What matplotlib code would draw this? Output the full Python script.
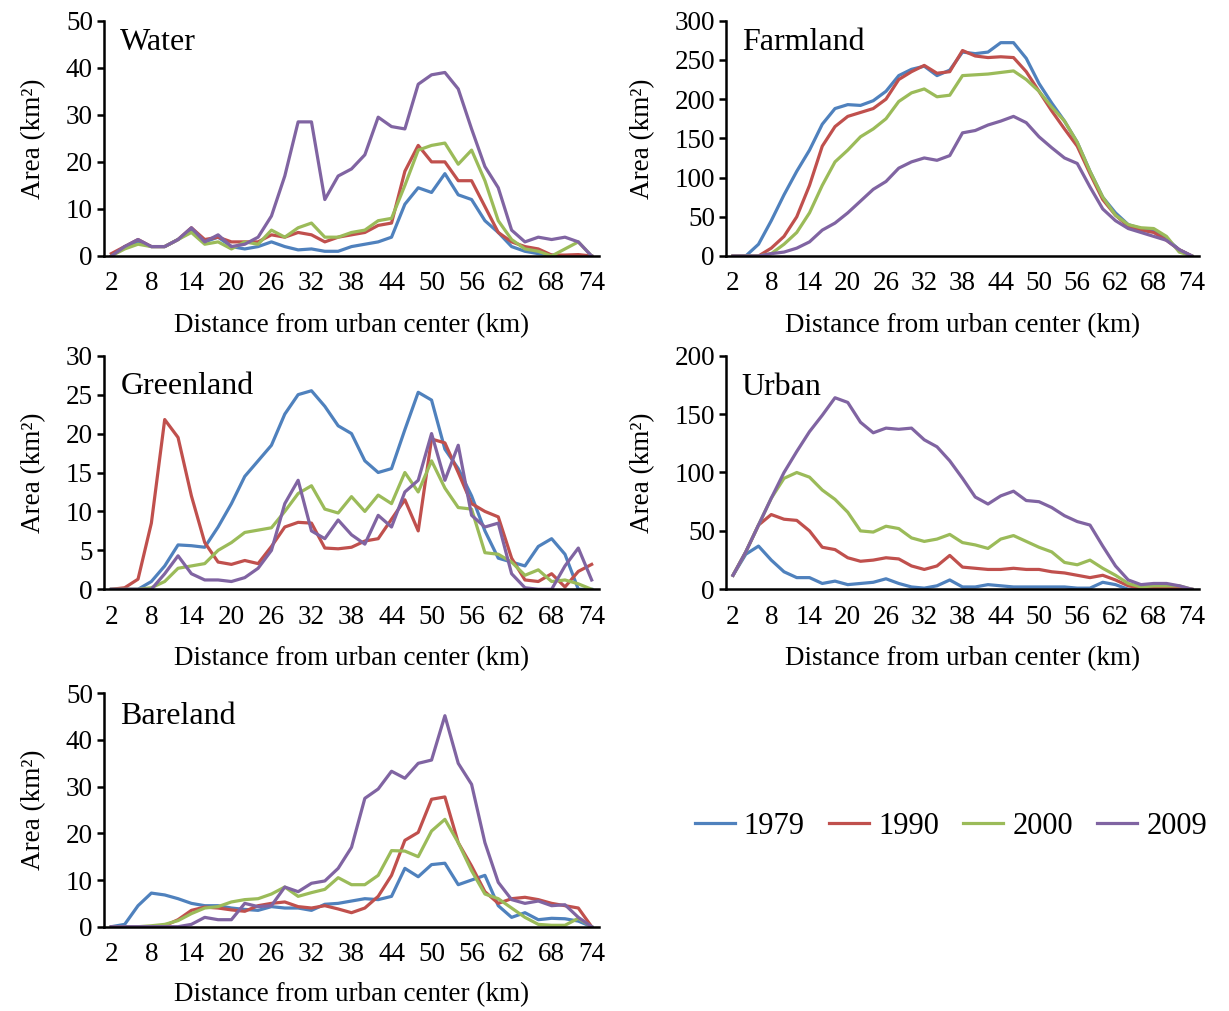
import matplotlib
matplotlib.use('Agg')
import matplotlib.pyplot as plt

plt.rcParams['font.family'] = ['Liberation Serif', 'DejaVu Serif']

dist = list(range(2, 76, 2))
years = ['1979', '1990', '2000', '2009']
colors = ['#4F81BD', '#C0504D', '#9BBB59', '#8064A2']

# Water
water_1979 = [0, 2, 3, 2, 2, 3.5, 5.5, 3, 4, 2, 1.5, 2, 3, 2, 1.3, 1.5, 1, 1, 2, 2.5,
              3, 4, 11, 14.5, 13.5, 17.5, 13, 12, 7.5, 5, 2, 1, 0.5, 0.2, 0, 0, 0]
water_1990 = [0.5, 2, 3.5, 2, 2, 3.5, 6, 3.5, 4, 3, 3, 3, 4.5, 4, 5, 4.5, 3, 4, 4.5, 5,
              6.5, 7, 18, 23.5, 20, 20, 16, 16, 10.5, 5, 3, 2, 1.5, 0.2, 0.2, 0.3, 0]
water_2000 = [0, 1.5, 2.5, 2, 2, 3.5, 5, 2.5, 3, 1.5, 3, 2.5, 5.5, 4, 6, 7, 4, 4, 5, 5.5,
              7.5, 8, 15, 22.5, 23.5, 24, 19.5, 22.5, 16, 7.5, 3.5, 1.5, 1, 0, 1.5, 3, 0]
water_2009 = [0, 2, 3.5, 2, 2, 3.5, 6, 3, 4.5, 2, 2.5, 4, 8.5, 17, 28.5, 28.5, 12, 17, 18.5, 21.5,
              29.5, 27.5, 27, 36.5, 38.5, 39, 35.5, 27, 19, 14.5, 5.5, 3, 4, 3.5, 4, 3, 0]

# Farmland
farm_1979 = [0, 0, 15, 45, 78, 108, 135, 168, 188, 193, 192, 198, 210, 230, 238, 242, 230, 237, 260, 258,
             260, 272, 272, 252, 220, 195, 172, 145, 108, 75, 55, 40, 35, 32, 22, 8, 0]
farm_1990 = [0, 0, 0, 10, 25, 50, 90, 140, 165, 178, 183, 188, 200, 225, 235, 243, 233, 235, 262, 255,
             253, 254, 253, 235, 210, 185, 162, 140, 105, 72, 52, 38, 33, 30, 20, 8, 0]
farm_2000 = [0, 0, 0, 3, 15, 30, 55, 90, 120, 135, 152, 162, 175, 197, 208, 213, 203, 205, 230, 231,
             232, 234, 236, 225, 210, 190, 172, 145, 108, 75, 52, 40, 36, 35, 25, 5, 0]
farm_2009 = [0, 0, 0, 3, 5, 10, 18, 33, 42, 55, 70, 85, 95, 112, 120, 125, 122, 128, 157, 160,
             167, 172, 178, 170, 152, 138, 125, 118, 88, 60, 45, 35, 30, 25, 20, 8, 0]

# Greenland
green_1979 = [0, 0, 0, 1, 3, 5.7, 5.6, 5.4, 8, 11, 14.5, 16.5, 18.5, 22.5, 25, 25.5, 23.5, 21, 20, 16.5,
              15, 15.5, 20.5, 25.3, 24.3, 18, 15.5, 12, 7.5, 4, 3.5, 3, 5.5, 6.5, 4.5, 0, 0]
green_1990 = [0, 0.2, 1.3, 8.5, 21.8, 19.5, 12, 6, 3.5, 3.2, 3.7, 3.3, 5.5, 8, 8.6, 8.5, 5.3, 5.2, 5.4, 6.2,
              6.5, 9, 11.5, 7.5, 19.3, 18.8, 15, 11, 10, 9.3, 4, 1.2, 1, 2, 0.3, 2.3, 3.2]
green_2000 = [0, 0, 0, 0.2, 1, 2.7, 3, 3.3, 5, 6, 7.3, 7.6, 7.9, 10, 12.3, 13.3, 10.3, 9.8, 11.9, 10,
              12.1, 11, 15, 12.5, 16.5, 13, 10.5, 10.3, 4.7, 4.5, 3.5, 1.8, 2.5, 1, 1.2, 0.7, 0]
green_2009 = [0, 0, 0, 0, 2, 4.3, 2, 1.2, 1.2, 1, 1.5, 2.7, 5, 11, 14, 7.5, 6.5, 8.9, 7, 5.8,
              9.5, 8, 12.5, 14, 20, 14, 18.5, 9.5, 8, 8.5, 2, 0.2, 0, 0, 3, 5.3, 1.2]

# Urban
urban_1979 = [12, 30, 37, 25, 15, 10, 10, 5, 7, 4, 5, 6, 9, 5, 2, 1, 3, 8, 2, 2,
              4, 3, 2, 2, 2, 2, 2, 1, 1, 6, 4, 0, 0, 0, 0, 0, 0]
urban_1990 = [12, 32, 55, 64, 60, 59, 50, 36, 34, 27, 24, 25, 27, 26, 20, 17, 20, 29, 19, 18,
              17, 17, 18, 17, 17, 15, 14, 12, 10, 12, 8, 3, 1, 1, 1, 1, 0]
urban_2000 = [12, 32, 55, 78, 95, 100, 96, 85, 77, 66, 50, 49, 54, 52, 44, 41, 43, 47, 40, 38,
              35, 43, 46, 41, 36, 32, 23, 21, 25, 18, 12, 5, 2, 3, 3, 3, 0]
urban_2009 = [12, 32, 55, 78, 100, 118, 135, 149, 164, 160, 143, 134, 138, 137, 138, 128, 122, 110, 95, 79,
              73, 80, 84, 76, 75, 70, 63, 58, 55, 37, 20, 8, 4, 5, 5, 3, 0]

# Bareland
bare_1979 = [0, 0.5, 4.5, 7.2, 6.8, 6, 5, 4.5, 4.5, 4, 3.7, 3.5, 4.3, 4, 4, 3.5, 4.8, 5, 5.5, 6,
             5.8, 6.5, 12.5, 10.7, 13.3, 13.6, 9, 10, 11, 4.5, 2, 3, 1.5, 1.8, 1.7, 1.2, 0]
bare_1990 = [0, 0, 0, 0, 0.2, 1.5, 3.5, 4.2, 4, 3.6, 3.3, 4.5, 5, 5.3, 4.3, 4, 4.5, 3.8, 3, 4,
             6.5, 11, 18.5, 20.2, 27.3, 27.8, 18, 13, 7.5, 5, 6, 6.3, 5.8, 5, 4.5, 4, 0]
bare_2000 = [0, 0, 0, 0.2, 0.5, 1.3, 2.8, 4, 4.3, 5.3, 5.8, 6, 7, 8.5, 6.5, 7.3, 8, 10.5, 9, 9,
             11, 16.3, 16.2, 15, 20.5, 23, 18, 12, 7, 6, 4, 2, 0.5, 0.3, 0.3, 1.8, 0]
bare_2009 = [0, 0, 0, 0, 0, 0, 0.5, 2, 1.5, 1.5, 5, 4.3, 4.5, 8.5, 7.5, 9.3, 9.8, 12.5, 17, 27.5,
             29.5, 33.3, 31.8, 35, 35.7, 45.2, 35, 30.5, 18, 9.5, 5.8, 5, 5.5, 4.5, 4.7, 2, 0]

panels = [
    ('Water', [water_1979, water_1990, water_2000, water_2009], 50, 10, 0.97),
    ('Farmland', [farm_1979, farm_1990, farm_2000, farm_2009], 300, 50, 0.97),
    ('Greenland', [green_1979, green_1990, green_2000, green_2009], 30, 5, 0.93),
    ('Urban', [urban_1979, urban_1990, urban_2000, urban_2009], 200, 50, 0.925),
    ('Bareland', [bare_1979, bare_1990, bare_2000, bare_2009], 50, 10, 0.963),
]

W, H = 1229, 1011
# left, right, top, bottom in pixels, xlabel pad
boxes = [(104, 599, 20.7, 256, 12), (726, 1199, 20.7, 256, 12),
         (104, 599, 355.7, 589.3, 12), (726, 1199, 355.7, 589.3, 12),
         (104, 599, 693.3, 926.7, 11)]

fig = plt.figure(figsize=(W / 100, H / 100), dpi=100)
fs = 19.5

lines = []
for (name, series, ymax, ystep, ty), (l, r, t, b, xpad) in zip(panels, boxes):
    ax = fig.add_axes([l / W, 1 - b / H, (r - l) / W, (b - t) / H])
    for s, c, yr in zip(series, colors, years):
        ln, = ax.plot(dist, s, color=c, lw=2.3, label=yr)
        if name == 'Water':
            lines.append(ln)
    ax.set_xlim(0.9, 75.1)
    ax.set_ylim(0, ymax)
    ax.set_xticks(list(range(2, 76, 6)))
    ax.set_yticks(list(range(0, ymax + 1, ystep)))
    ax.spines['top'].set_visible(False)
    ax.spines['right'].set_visible(False)
    ax.spines['left'].set_linewidth(1.8)
    ax.spines['bottom'].set_linewidth(1.8)
    ax.tick_params(axis='y', direction='out', length=5, width=1.8, labelsize=fs, pad=3)
    ax.tick_params(axis='x', length=0, labelsize=fs, pad=11)
    ax.set_xlabel('Distance from urban center (km)', fontsize=fs, labelpad=xpad)
    ax.set_ylabel('Area (km²)', fontsize=fs, labelpad=14)
    ax.text(0.033, ty, name, transform=ax.transAxes, fontsize=23, va='top', ha='left')

fig.legend(handles=lines, labels=years, loc='center', bbox_to_anchor=(951 / W, 1 - 826 / H),
           ncol=4, frameon=False, fontsize=22, handlelength=1.3, handletextpad=0.3,
           columnspacing=0.8)

fig.savefig('out.png', dpi=100)
